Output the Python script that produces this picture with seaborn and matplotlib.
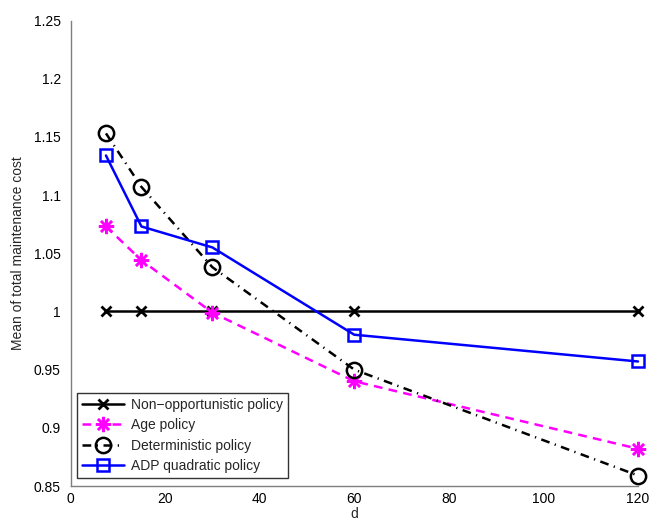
import matplotlib
matplotlib.use("Agg")
import matplotlib.pyplot as plt
import pandas as pd
import seaborn as sns

# -- data --------------------------------------------------------------------

D_VALUES = [7.5, 15, 30, 60, 120]
NON_OPPORTUNISTIC = [1.0, 1.0, 1.0, 1.0, 1.0]
AGE_POLICY = [1.073, 1.044, 0.999, 0.940, 0.882]
DETERMINISTIC = [1.153, 1.107, 1.038, 0.950, 0.859]
ADP_QUADRATIC = [1.134, 1.073, 1.055, 0.980, 0.957]

SERIES_NAMES = [
    "Non\u2212opportunistic policy",
    "Age policy",
    "Deterministic policy",
    "ADP quadratic policy",
]

# -- style -------------------------------------------------------------------

sns.set_style("white")
plt.rcParams["font.family"] = ["Liberation Sans", "DejaVu Sans"]
plt.rcParams["font.size"] = 10

MAGENTA = "#ff00ff"
BLUE = "#0000ff"

STYLES = {
    SERIES_NAMES[0]: dict(color="black", marker="x", linestyle="-",
                          markersize=7, markeredgewidth=2,
                          markeredgecolor="black"),
    SERIES_NAMES[1]: dict(color=MAGENTA, marker=(8, 2, 0), linestyle=(0, (3.5, 2.5)),
                          markersize=11, markeredgewidth=1.8,
                          markeredgecolor=MAGENTA),
    SERIES_NAMES[2]: dict(color="black", marker="o", linestyle=(0, (3.5, 2.2, 0.5, 2.2)),
                          markersize=11, markeredgewidth=1.8, markerfacecolor="none",
                          markeredgecolor="black"),
    SERIES_NAMES[3]: dict(color=BLUE, marker="s", linestyle="-",
                          markersize=9, markeredgewidth=1.8, markerfacecolor="none",
                          markeredgecolor=BLUE),
}


def main():
    df = pd.DataFrame({
        "d": D_VALUES * 4,
        "cost": NON_OPPORTUNISTIC + AGE_POLICY + DETERMINISTIC + ADP_QUADRATIC,
        "policy": [n for n in SERIES_NAMES for _ in D_VALUES],
    })

    fig = plt.figure(figsize=(6.51, 5.22), dpi=100)
    ax = fig.add_axes([70.5 / 651, 1 - 486 / 522, (638 - 70.5) / 651, (486 - 20.5) / 522])

    for name in SERIES_NAMES:
        sub = df[df["policy"] == name]
        sns.lineplot(data=sub, x="d", y="cost", ax=ax, label=name,
                     linewidth=1.8, clip_on=False, **STYLES[name])

    ax.set_xlim(0, 120)
    ax.set_ylim(0.85, 1.25)
    ax.set_xticks([0, 20, 40, 60, 80, 100, 120])
    ax.set_yticks([0.85, 0.9, 0.95, 1.0, 1.05, 1.1, 1.15, 1.2, 1.25])
    ax.set_yticklabels(["0.85", "0.9", "0.95", "1", "1.05", "1.1", "1.15", "1.2", "1.25"])
    ax.set_xlabel("d", fontsize=10, labelpad=1)
    ax.set_ylabel("Mean of total maintenance cost", fontsize=10, labelpad=6)

    sns.despine(ax=ax)
    for side in ("left", "bottom"):
        ax.spines[side].set_color("#7f7f7f")
        ax.spines[side].set_linewidth(1.0)
    ax.tick_params(axis="both", direction="in", length=3, width=0.8,
                   color="#7f7f7f", labelsize=10, labelcolor="black", pad=4)
    ax.tick_params(axis="y", direction="out")

    leg = ax.legend(loc="lower left", bbox_to_anchor=(0.012, 0.018), frameon=True,
                    fancybox=False, edgecolor="black", fontsize=10,
                    handlelength=3.0, borderpad=0.35, labelspacing=0.45,
                    handletextpad=0.5, borderaxespad=0.0)
    leg.get_frame().set_linewidth(1.0)

    fig.savefig("out.png", dpi=100)
    plt.close(fig)


if __name__ == "__main__":
    main()
